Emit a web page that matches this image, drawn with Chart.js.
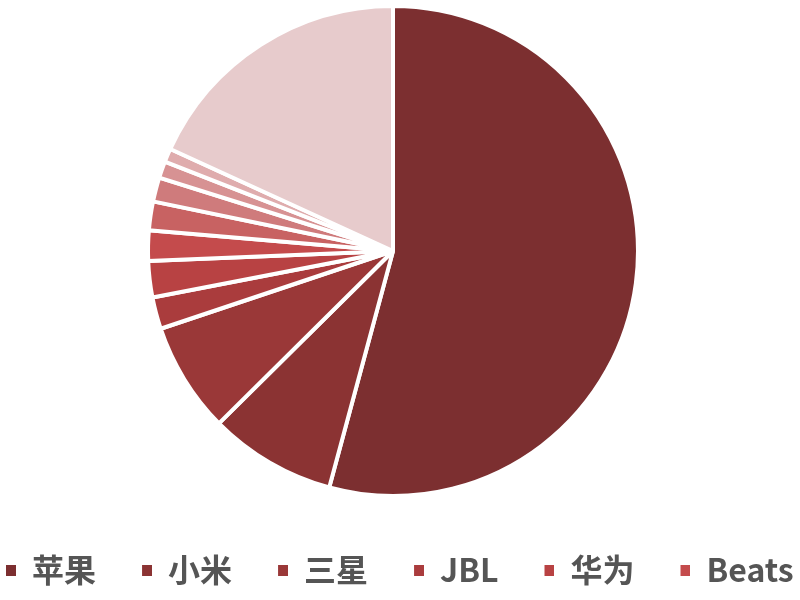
<!DOCTYPE html>
<html lang="zh">
<head>
  <meta charset="UTF-8" />
  <title>耳机品牌份额</title>
  <script src="https://cdn.jsdelivr.net/npm/chart.js"></script>
  <style>
    body {
      margin: 0;
      background-color: #ffffff;
    }
    .chart-box {
      width: 800px;
      height: 600px;
    }
  </style>
</head>
<body>
  <div class="chart-box">
    <canvas id="pieChart" width="800" height="600"></canvas>
  </div>

  <script>
    // brands (only the first six appear in the legend, as in the original)
    const brands = ['苹果', '小米', '三星', 'JBL', '华为', 'Beats', '品牌7', '品牌8', '品牌9', '品牌10', '其他'];
    // share in percent
    const shares = [54.3, 8.4, 7.3, 2.1, 2.4, 2.0, 1.9, 1.6, 1.1, 0.9, 18.2];
    const sliceColors = ['#7c2f30', '#8b3333', '#9a3838', '#aa3c3d', '#b84243', '#c44b4c',
                         '#c86262', '#cf7b7c', '#d79293', '#dfacad', '#e7cbcc'];
    const legendCount = 6;

    // legend marker: small square sitting at the right end of a wider blank strip,
    // the blank part gives the spacing between legend entries
    const markerGap = 46;
    function makeMarker(color) {
      const c = document.createElement('canvas');
      c.width = markerGap + 10;
      c.height = 11;
      const g = c.getContext('2d');
      g.fillStyle = color;
      g.fillRect(markerGap, 0, 10, 11);
      return c;
    }

    const pieLabels = Chart.overrides.pie.plugins.legend.labels.generateLabels;

    const ctx = document.getElementById('pieChart').getContext('2d');
    new Chart(ctx, {
      type: 'pie',
      data: {
        labels: brands,
        datasets: [{
          data: shares,
          backgroundColor: sliceColors,
          borderColor: '#ffffff',
          borderWidth: 4,
          radius: 245
        }]
      },
      options: {
        responsive: false,
        animation: false,
        devicePixelRatio: 1,
        layout: {
          padding: { top: 0, left: 6 - markerGap, right: 0, bottom: 4 }
        },
        plugins: {
          tooltip: { enabled: false },
          // empty title on the right only to nudge the pie a little left
          title: {
            display: true,
            text: '',
            position: 'right',
            fullSize: false,
            padding: 0,
            font: { size: 14, lineHeight: 1 }
          },
          legend: {
            position: 'bottom',
            align: 'start',
            title: {
              display: true,
              text: '',
              padding: { top: 40, bottom: 0 },
              font: { size: 12, lineHeight: 1 }
            },
            labels: {
              usePointStyle: true,
              pointStyleWidth: markerGap + 10,
              padding: 0,
              color: '#555555',
              font: { family: '"Noto Sans CJK SC", "Noto Sans", sans-serif', size: 32, weight: 'bold' },
              generateLabels: (chart) => pieLabels(chart)
                .filter((item) => item.index < legendCount)
                .map((item) => Object.assign(item, {
                  lineWidth: 0,
                  pointStyle: makeMarker(sliceColors[item.index])
                }))
            }
          }
        }
      }
    });
  </script>
</body>
</html>
